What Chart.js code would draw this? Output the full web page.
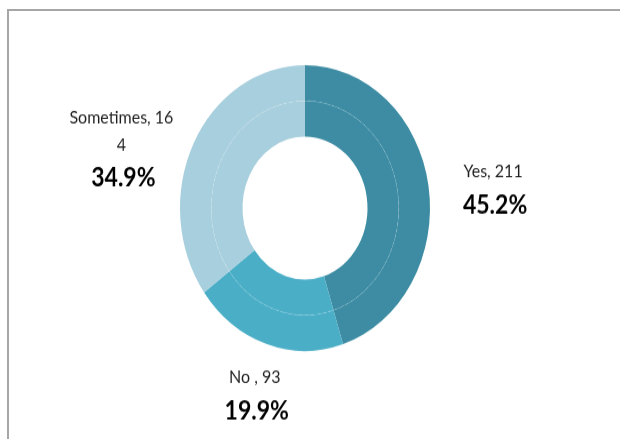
<!DOCTYPE html>
<html>
<head>
<meta charset="utf-8">
<script src="https://cdn.jsdelivr.net/npm/chart.js@4/dist/chart.umd.min.js"></script>
<style>
  html, body { margin: 0; padding: 0; background: #fff; }
  body { position: relative; width: 620px; height: 439px; overflow: hidden; }
  #frame {
    position: absolute; left: 7px; top: 9px; width: 700px; height: 500px;
    border-left: 2px solid #a6a6a6; border-top: 2px solid #a6a6a6;
  }
  #wrap {
    position: absolute; left: 0; top: 0; width: 620px; height: 384px;
    transform: scaleY(1.1432); transform-origin: 0 0;
  }
</style>
</head>
<body>
<div id="frame"></div>
<div id="wrap"><canvas id="myChart" width="620" height="384"></canvas></div>
<script>
const categories = ['Yes', 'No ', 'Sometimes'];
const counts = [211, 93, 164];
const shares = [45.2, 19.9, 34.9];

const sliceColors = ['#3d8ca3', '#4aaec7', '#a8cfdd'];

// break a label into lines no wider than maxWidth, character by character
function wrapText(ctx, text, maxWidth) {
    const lines = [];
    let line = '';
    for (const ch of text) {
        if (line && ctx.measureText(line + ch).width > maxWidth) {
            lines.push(line);
            line = ch;
        } else {
            line += ch;
        }
    }
    if (line) lines.push(line);
    return lines;
}

// faint dashed seam between the two rings
const ringSeam = {
    id: 'ringSeam',
    afterDatasetsDraw(chart) {
        const arc = chart.getDatasetMeta(0).data[0];
        const ctx = chart.ctx;
        ctx.save();
        ctx.beginPath();
        ctx.setLineDash([3, 3]);
        ctx.strokeStyle = 'rgba(255,255,255,0.16)';
        ctx.lineWidth = 1;
        ctx.arc(arc.x, arc.y, arc.innerRadius, 0, Math.PI * 2);
        ctx.stroke();
        ctx.restore();
    }
};

// "name, count" plus a bold share under it, outside each slice
const sliceLabels = {
    id: 'sliceLabels',
    afterDraw(chart, args, opts) {
        const ctx = chart.ctx;
        const arcs = chart.getDatasetMeta(0).data;
        ctx.save();
        ctx.textAlign = 'center';
        ctx.textBaseline = 'middle';
        arcs.forEach((arc, i) => {
            const mid = (arc.startAngle + arc.endAngle) / 2;
            const r = arc.outerRadius * opts.distance;
            const x = arc.x + Math.cos(mid) * r + opts.nudge[i][0];
            let y = arc.y + Math.sin(mid) * r + opts.nudge[i][1];
            ctx.font = '16px Lato';
            ctx.fillStyle = '#1f1f1f';
            const lines = wrapText(ctx, categories[i] + ', ' + counts[i], 110);
            lines.forEach((ln, k) => {
                ctx.fillText(ln, x, y + k * 24);
            });
            y += (lines.length - 1) * 24 + 29;
            ctx.font = 'bold 23px Lato';
            ctx.fillStyle = '#000';
            ctx.fillText(shares[i].toFixed(1) + '%', x + 2, y);
        });
        ctx.restore();
    }
};

const ctx = document.getElementById('myChart').getContext('2d');
new Chart(ctx, {
    type: 'doughnut',
    data: {
        labels: categories,
        datasets: [{
            data: counts,
            backgroundColor: sliceColors,
            borderWidth: 0
        }, {
            data: counts,
            backgroundColor: sliceColors,
            borderWidth: 0
        }]
    },
    options: {
        responsive: false,
        devicePixelRatio: 1,
        animation: false,
        cutout: '50%',
        layout: {
            padding: { left: 180, right: 190, top: 57, bottom: 77 }
        },
        plugins: {
            legend: { display: false },
            tooltip: { enabled: false },
            sliceLabels: {
                distance: 1.45,
                nudge: [[9, -4], [6, -24], [-22, 2.5]]
            }
        }
    },
    plugins: [ringSeam, sliceLabels]
});
</script>
</body>
</html>
